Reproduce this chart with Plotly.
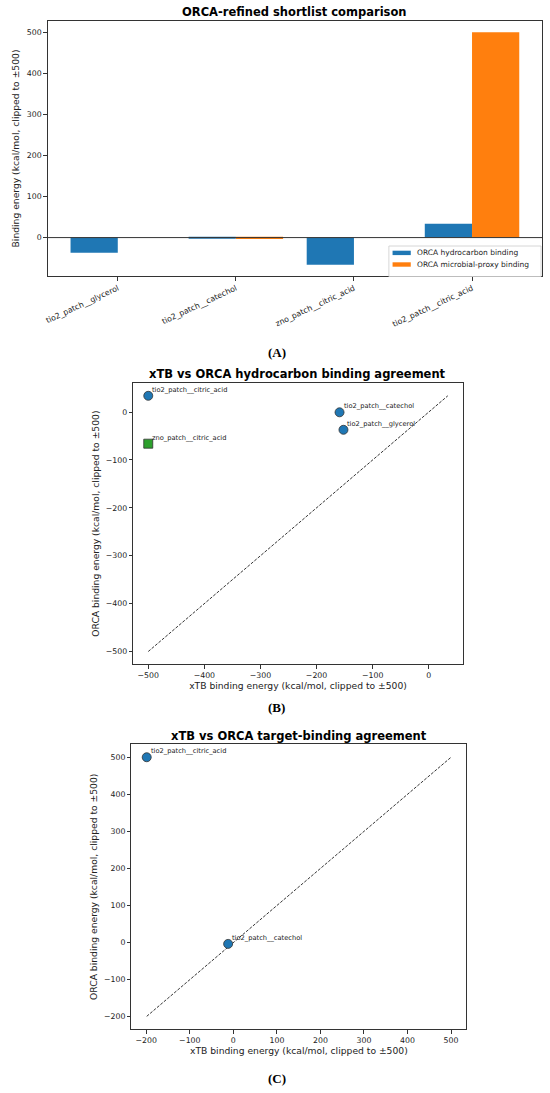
import plotly.graph_objects as go

# shortlist candidates (order as in the bar chart)
candidates = ["tio2_patch__glycerol", "tio2_patch__catechol",
              "zno_patch__citric_acid", "tio2_patch__citric_acid"]
orca_hc = [-37, -0.5, -66, 34]        # ORCA hydrocarbon binding
orca_micro = [None, -3.5, None, 500]  # ORCA microbial-proxy binding
xtb_hc = [-152, -159, -500, -500]     # xTB hydrocarbon binding
xtb_target = [None, -12, None, -199]  # xTB target binding
surface = ["tio2", "tio2", "zno", "tio2"]
series_names = ["ORCA hydrocarbon binding", "ORCA microbial-proxy binding"]

W, H = 550, 1093
FONT = "DejaVu Sans"
INK = "#222222"
SPINE = "#333333"
BLUE, ORANGE, GREEN = "#1f77b4", "#ff7f0e", "#2ca02c"
ylab = "Binding energy (kcal/mol, clipped to ±500)"
xlab = "xTB binding energy (kcal/mol, clipped to ±500)"
olab = "ORCA binding energy (kcal/mol, clipped to ±500)"
TICK = 7.8
LAB = 9.2


def px_x(a, b):
    return [a / W, b / W]


def px_y(top, bottom):
    return [1 - bottom / H, 1 - top / H]


fig = go.Figure()

# (A) grouped bars
fig.add_trace(go.Bar(x=candidates, y=orca_hc, name=series_names[0],
                     marker=dict(color=BLUE, line=dict(width=0)),
                     showlegend=False, xaxis="x", yaxis="y"))
fig.add_trace(go.Bar(x=candidates, y=orca_micro, name=series_names[1],
                     marker=dict(color=ORANGE, line=dict(width=0)),
                     showlegend=False, xaxis="x", yaxis="y"))


def limits(xs, ys):
    vals = [v for v in xs + ys if v is not None]
    return min(vals), max(vals)


def scatter_panel(xs, ys, xa, ya):
    lo, hi = limits(xs, ys)
    fig.add_trace(go.Scatter(x=[lo, hi], y=[lo, hi], mode="lines",
                             line=dict(color="black", width=0.8, dash="3px,1.5px"),
                             showlegend=False, hoverinfo="skip",
                             xaxis=xa, yaxis=ya))
    for name, xv, yv, s in zip(candidates, xs, ys, surface):
        if xv is None or yv is None:
            continue
        fig.add_trace(go.Scatter(
            x=[xv], y=[yv], mode="markers", showlegend=False,
            marker=dict(size=9, color=GREEN if s == "zno" else BLUE,
                        symbol="square" if s == "zno" else "circle",
                        line=dict(color=SPINE, width=0.8)),
            xaxis=xa, yaxis=ya))
        fig.add_annotation(x=xv, y=yv, xref=xa, yref=ya, text=name,
                           showarrow=False, xanchor="left", yanchor="bottom",
                           xshift=2, yshift=0,
                           font=dict(family=FONT, size=6.7, color=INK))
    pad = (hi - lo) * 0.05
    return [lo - pad, hi + pad]


rng_b = scatter_panel(xtb_hc, orca_hc, "x2", "y2")
rng_c = scatter_panel(xtb_target, orca_micro, "x3", "y3")

axis_common = dict(showline=True, mirror=True, linecolor=SPINE, linewidth=1,
                   ticks="outside", ticklen=3.5, tickcolor=SPINE,
                   showgrid=False, zeroline=False,
                   tickfont=dict(family=FONT, size=TICK, color=INK))


def ttl(text, standoff):
    return dict(text=text, font=dict(family=FONT, size=LAB, color=INK),
                standoff=standoff)


fig.update_layout(
    width=W, height=H,
    margin=dict(l=0, r=0, t=0, b=0),
    paper_bgcolor="white", plot_bgcolor="white",
    barmode="group", bargap=0.2, bargroupgap=0,
    font=dict(family=FONT, color=INK),
    showlegend=False,
    xaxis=dict(domain=px_x(45, 542), anchor="y", type="category",
               range=[-0.593, 3.593], tickangle=-25, **axis_common),
    yaxis=dict(domain=px_y(20.7, 276.3), anchor="x", range=[-94.3, 528.3],
               dtick=100, title=ttl(ylab, 5), **axis_common),
    xaxis2=dict(domain=px_x(131, 462.3), anchor="y2", range=rng_b, dtick=100,
                title=ttl(xlab, 2), **axis_common),
    yaxis2=dict(domain=px_y(383, 664.3), anchor="x2", range=rng_b, dtick=100,
                title=ttl(olab, 4), **axis_common),
    xaxis3=dict(domain=px_x(129.2, 465.8), anchor="y3", range=rng_c, dtick=100,
                title=ttl(xlab, 2), **axis_common),
    yaxis3=dict(domain=px_y(744.3, 1029.3), anchor="x3", range=rng_c, dtick=100,
                title=ttl(olab, 4), **axis_common),
)

# zero line on the bar chart
fig.add_shape(type="line", xref="x domain", yref="y", x0=0, x1=1, y0=0, y1=0,
              line=dict(color=SPINE, width=1))


def paper_rect(x0, y0, x1, y1, **kw):
    fig.add_shape(type="rect", xref="paper", yref="paper",
                  x0=x0 / W, x1=x1 / W, y0=1 - y1 / H, y1=1 - y0 / H, **kw)


# legend box of the bar chart (lower right, matplotlib style)
paper_rect(388, 246, 541, 276.5, fillcolor="rgba(255,255,255,0.8)",
           line=dict(color="#cccccc", width=0.8))
for name, col, yc in [(series_names[0], BLUE, 252.9),
                      (series_names[1], ORANGE, 264.5)]:
    paper_rect(391.7, yc - 2.2, 410, yc + 2.2, fillcolor=col, line=dict(width=0))
    fig.add_annotation(x=414.3 / W, y=1 - yc / H, xref="paper", yref="paper",
                       text=name, showarrow=False, xanchor="left",
                       yanchor="middle", font=dict(family=FONT, size=7.5, color=INK))

# panel titles
for text, xc, yc in [("ORCA-refined shortlist comparison", 293.5, 12.3),
                     ("xTB vs ORCA hydrocarbon binding agreement", 296.5, 374),
                     ("xTB vs ORCA target-binding agreement", 297.5, 736)]:
    fig.add_annotation(x=xc / W, y=1 - yc / H, xref="paper", yref="paper",
                       text="<b>" + text + "</b>", showarrow=False,
                       xanchor="center", yanchor="middle",
                       font=dict(family=FONT, size=11.5, color="black"))

# panel captions
for text, yc in [("(A)", 352), ("(B)", 707), ("(C)", 1078)]:
    fig.add_annotation(x=275 / W, y=1 - yc / H, xref="paper", yref="paper",
                       text="<b>" + text + "</b>", showarrow=False,
                       xanchor="center", yanchor="middle",
                       font=dict(family="Liberation Serif", size=13, color="black"))

fig.write_html("out.html", config={"displayModeBar": False},
               post_script="document.body.style.margin='0';")
